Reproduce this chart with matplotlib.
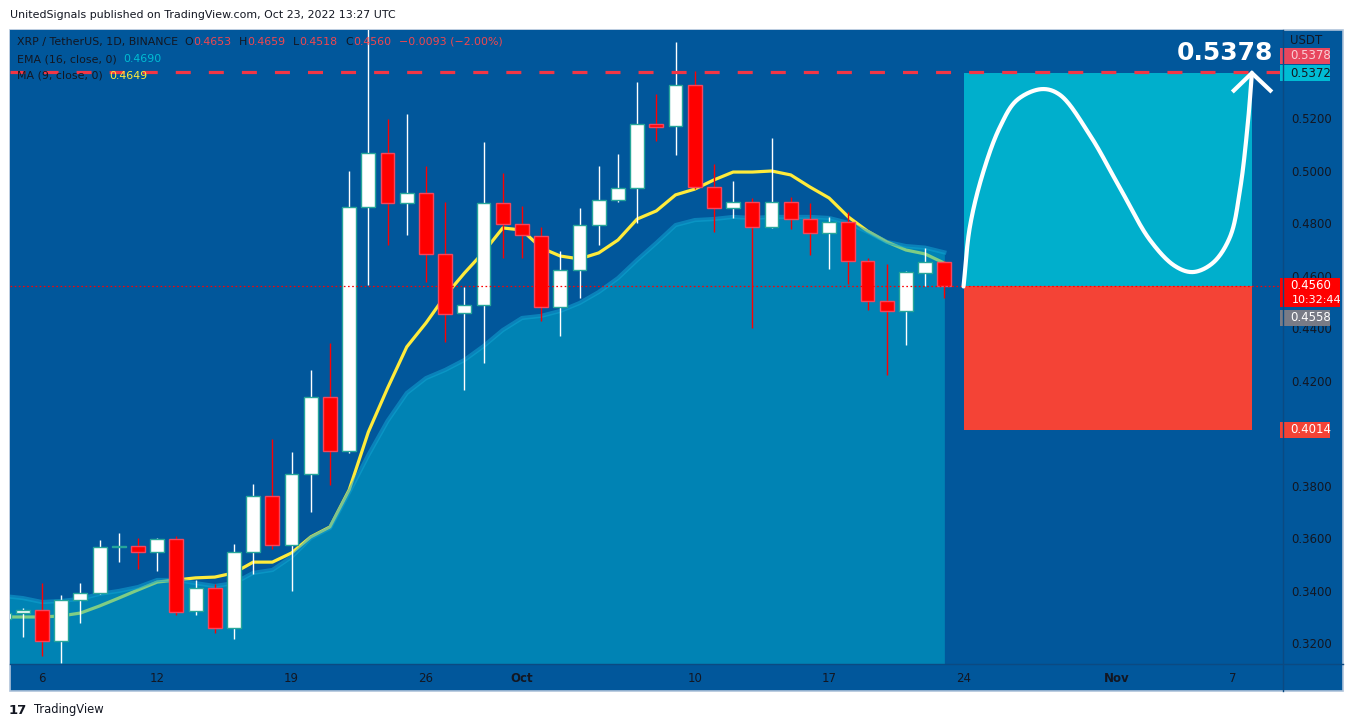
import matplotlib
matplotlib.use("Agg")
import matplotlib.pyplot as plt
import matplotlib.transforms as mtransforms
from matplotlib.patches import Rectangle
from matplotlib.lines import Line2D
import numpy as np

plt.rcParams['font.family'] = ['DejaVu Sans']
plt.rcParams['lines.scale_dashes'] = False

# ---------------- data ----------------
dates = ["Sep 4", "Sep 5", "Sep 6", "Sep 7", "Sep 8", "Sep 9", "Sep 10", "Sep 11", "Sep 12", "Sep 13",
         "Sep 14", "Sep 15", "Sep 16", "Sep 17", "Sep 18", "Sep 19", "Sep 20", "Sep 21", "Sep 22", "Sep 23",
         "Sep 24", "Sep 25", "Sep 26", "Sep 27", "Sep 28", "Sep 29", "Sep 30", "Oct 1", "Oct 2", "Oct 3",
         "Oct 4", "Oct 5", "Oct 6", "Oct 7", "Oct 8", "Oct 9", "Oct 10", "Oct 11", "Oct 12", "Oct 13",
         "Oct 14", "Oct 15", "Oct 16", "Oct 17", "Oct 18", "Oct 19", "Oct 20", "Oct 21", "Oct 22", "Oct 23"]

opens = [0.3293, 0.3316, 0.3328, 0.3210, 0.3366, 0.3392, 0.3567, 0.3571, 0.3549, 0.3598,
         0.3324, 0.3411, 0.3259, 0.3549, 0.3762, 0.3575, 0.3846, 0.4139, 0.3933, 0.4863,
         0.5069, 0.4878, 0.4916, 0.4684, 0.4459, 0.4490, 0.4878, 0.4798, 0.4752, 0.4482,
         0.4623, 0.4794, 0.4890, 0.4935, 0.5179, 0.5171, 0.5328, 0.4939, 0.4859, 0.4882,
         0.4787, 0.4882, 0.4817, 0.4764, 0.4806, 0.4657, 0.4505, 0.4467, 0.4611, 0.4653]
highs = [0.3325, 0.3335, 0.3430, 0.3385, 0.3430, 0.3594, 0.3621, 0.3602, 0.3602, 0.3610,
         0.3442, 0.3427, 0.3579, 0.3808, 0.3979, 0.3930, 0.4242, 0.4345, 0.5000, 0.5560,
         0.5198, 0.5217, 0.5019, 0.4882, 0.4558, 0.5110, 0.4992, 0.4867, 0.4787, 0.4695,
         0.4859, 0.5019, 0.5065, 0.5339, 0.5293, 0.5491, 0.5381, 0.5027, 0.4962, 0.4897,
         0.5126, 0.4901, 0.4878, 0.4825, 0.4844, 0.4669, 0.4646, 0.4619, 0.4707, 0.4659]
lows = [0.3285, 0.3225, 0.3152, 0.3126, 0.3278, 0.3390, 0.3510, 0.3484, 0.3476, 0.3309,
        0.3309, 0.3240, 0.3217, 0.3465, 0.3560, 0.3400, 0.3701, 0.3804, 0.3925, 0.4566,
        0.4718, 0.4756, 0.4577, 0.4349, 0.4166, 0.4269, 0.4669, 0.4669, 0.4429, 0.4371,
        0.4516, 0.4718, 0.4882, 0.4802, 0.5114, 0.5061, 0.4931, 0.4768, 0.4821, 0.4402,
        0.4783, 0.4779, 0.4680, 0.4627, 0.4570, 0.4471, 0.4223, 0.4337, 0.4562, 0.4518]
closes = [0.3316, 0.3328, 0.3210, 0.3366, 0.3392, 0.3568, 0.3569, 0.3549, 0.3598, 0.3320,
          0.3411, 0.3259, 0.3549, 0.3762, 0.3575, 0.3846, 0.4139, 0.3933, 0.4863, 0.5069,
          0.4878, 0.4916, 0.4684, 0.4455, 0.4490, 0.4878, 0.4798, 0.4756, 0.4482, 0.4623,
          0.4794, 0.4890, 0.4935, 0.5179, 0.5168, 0.5328, 0.4939, 0.4859, 0.4882, 0.4787,
          0.4882, 0.4817, 0.4764, 0.4806, 0.4657, 0.4505, 0.4467, 0.4615, 0.4653, 0.4560]

ma9 = [0.3301, 0.3301, 0.3301, 0.3305, 0.3316, 0.3343, 0.3373, 0.3404, 0.3434, 0.3442,
       0.3450, 0.3453, 0.3469, 0.3510, 0.3510, 0.3545, 0.3606, 0.3644, 0.3785, 0.4006,
       0.4173, 0.4330, 0.4421, 0.4524, 0.4611, 0.4691, 0.4783, 0.4775, 0.4707, 0.4676,
       0.4665, 0.4688, 0.4737, 0.4817, 0.4848, 0.4909, 0.4931, 0.4966, 0.4996, 0.4996,
       0.5000, 0.4985, 0.4939, 0.4897, 0.4825, 0.4771, 0.4730, 0.4699, 0.4684, 0.4649]
ema16 = [0.3381, 0.3373, 0.3358, 0.3362, 0.3370, 0.3389, 0.3400, 0.3415, 0.3442, 0.3442,
         0.3430, 0.3419, 0.3430, 0.3469, 0.3480, 0.3530, 0.3602, 0.3640, 0.3777, 0.3918,
         0.4048, 0.4154, 0.4211, 0.4242, 0.4280, 0.4333, 0.4394, 0.4440, 0.4448, 0.4467,
         0.4497, 0.4539, 0.4592, 0.4661, 0.4726, 0.4794, 0.4813, 0.4817, 0.4825, 0.4821,
         0.4825, 0.4825, 0.4825, 0.4821, 0.4802, 0.4768, 0.4730, 0.4714, 0.4708, 0.4690]

x_tick_pos = [2, 8, 15, 22, 27, 36, 43, 50, 58, 64]
x_tick_labels = ["6", "12", "19", "26", "Oct", "10", "17", "24", "Nov", "7"]
y_tick_vals = [0.32, 0.34, 0.36, 0.38, 0.42, 0.44, 0.46, 0.48, 0.50, 0.52]

entry_price = 0.4560
target_price = 0.5372
stop_price = 0.4014
alert_level = 0.5378
last_price = 0.4560
prev_close_label = 0.4558
position_start = 50
position_end = 65

# hand-drawn path annotation (day index, price)
curve_x = [50.0, 50.33, 51.01, 51.90, 52.78, 54.08, 55.02, 56.58, 58.15, 59.71,
           61.01, 61.95, 62.99, 63.88, 64.40, 64.81, 65.02]
curve_y = [0.4560, 0.4787, 0.4992, 0.5168, 0.5270, 0.5312, 0.5290, 0.5137, 0.4935, 0.4737,
           0.4638, 0.4615, 0.4650, 0.4749, 0.4928, 0.5183, 0.5373]
arrow_x = [64.0, 65.02, 66.06]
arrow_y = [0.5301, 0.5373, 0.5301]

# ---------------- styling ----------------
W, H = 1354, 727
BG = '#01579B'
TXT = '#131722'
fig = plt.figure(figsize=(W / 100, H / 100), dpi=100)
fig.patch.set_facecolor('white')


def fx(px):
    return px / W


def fy(py):
    return 1 - py / H


fig.add_artist(Rectangle((fx(10), fy(691)), 1333 / W, 661 / H, transform=fig.transFigure,
                         facecolor=BG, edgecolor='#AFC3DA', lw=1.2, zorder=0))

ax = fig.add_axes([fx(10), fy(664), 1273 / W, 634 / H])
ax.set_facecolor(BG)
xmin, xmax = 0.333, 66.64
ymin, ymax = 0.31219, 0.55371
ax.set_xlim(xmin, xmax)
ax.set_ylim(ymin, ymax)
dp = (ymax - ymin) / 634.0
dx = (xmax - xmin) / 1273.0
for s in ax.spines.values():
    s.set_visible(False)

x = np.arange(len(dates))
o = np.array(opens); h = np.array(highs); l = np.array(lows); c = np.array(closes)
up = c >= o

ax.plot(x, ma9, color='#FFEB3B', lw=2.3, zorder=2, solid_joinstyle='round')
ax.fill_between(x, ema16, ymin - 0.05, color='#00B0CE', alpha=0.5, lw=0, zorder=3)
ax.plot(x, ema16, color='#12A5D3', lw=3, alpha=0.55, zorder=3.1)

ax.add_patch(Rectangle((position_start, entry_price), position_end - position_start,
                       target_price - entry_price, fc='#00AFCC', ec='none', zorder=2))
ax.add_patch(Rectangle((position_start, stop_price), position_end - position_start,
                       entry_price - stop_price, fc='#F44336', ec='none', zorder=2))

ax.vlines(x[up], l[up], h[up], color='white', lw=1, zorder=4)
ax.vlines(x[~up], l[~up], h[~up], color='#FF0000', lw=1, zorder=4)
bh = np.maximum(np.abs(c - o), dp)
bb = np.minimum(o, c)
ax.bar(x[up], bh[up], bottom=bb[up], width=0.72, color='white', edgecolor='#26A69A', lw=1, zorder=5)
ax.bar(x[~up], bh[~up], bottom=bb[~up], width=0.72, color='#FF0000', edgecolor='#F6465D', lw=1, zorder=5)

ax.axhline(alert_level, color='#F23645', lw=2.3, ls=(0, (10.8, 13)), zorder=6)
ax.axhline(last_price, color='#FF0000', lw=0.9, ls=(0, (1.2, 1.8)), zorder=6)


def centripetal_cr(xs, ys, sx, sy, n=30):
    pts = np.column_stack([np.array(xs) / sx, np.array(ys) / sy])
    pts = np.vstack([2 * pts[0] - pts[1], pts, 2 * pts[-1] - pts[-2]])
    out = []
    for i in range(1, len(pts) - 2):
        p0, p1, p2, p3 = pts[i - 1], pts[i], pts[i + 1], pts[i + 2]
        t0 = 0.0
        t1 = t0 + np.linalg.norm(p1 - p0) ** 0.5
        t2 = t1 + np.linalg.norm(p2 - p1) ** 0.5
        t3 = t2 + np.linalg.norm(p3 - p2) ** 0.5
        t = np.linspace(t1, t2, n, endpoint=False)[:, None]
        A1 = (t1 - t) / (t1 - t0) * p0 + (t - t0) / (t1 - t0) * p1
        A2 = (t2 - t) / (t2 - t1) * p1 + (t - t1) / (t2 - t1) * p2
        A3 = (t3 - t) / (t3 - t2) * p2 + (t - t2) / (t3 - t2) * p3
        B1 = (t2 - t) / (t2 - t0) * A1 + (t - t0) / (t2 - t0) * A2
        B2 = (t3 - t) / (t3 - t1) * A2 + (t - t1) / (t3 - t1) * A3
        out.append((t2 - t) / (t2 - t1) * B1 + (t - t1) / (t2 - t1) * B2)
    out.append(pts[-2:-1])
    res = np.vstack(out)
    return res[:, 0] * sx, res[:, 1] * sy


cvx, cvy = centripetal_cr(curve_x, curve_y, dx, dp)
ax.plot(cvx, cvy, color='white', lw=3, zorder=7, solid_capstyle='round', solid_joinstyle='round')
ax.plot(arrow_x, arrow_y, color='white', lw=3, zorder=7, solid_capstyle='butt', solid_joinstyle='miter')
ax.text(63.6, alert_level + 19 * dp, "0.5378", color='white', fontsize=18, fontweight='bold',
        ha='center', va='center', zorder=8)

ax.set_xticks(x_tick_pos)
ax.set_xticklabels(x_tick_labels)
ax.tick_params(axis='x', length=0, pad=6, labelsize=8.5, labelcolor=TXT)
for lab in ax.get_xticklabels():
    if lab.get_text() in ("Oct", "Nov"):
        lab.set_fontweight('bold')
ax.yaxis.tick_right()
ax.set_yticks(y_tick_vals)
ax.set_yticklabels(["%.4f" % v for v in y_tick_vals])
ax.tick_params(axis='y', length=0, pad=6, labelsize=8.5, labelcolor=TXT)

fig.add_artist(Line2D([fx(1283), fx(1283)], [fy(691), fy(30)], color='#0B4A82', lw=1, zorder=1))
fig.add_artist(Line2D([fx(10), fx(1343)], [fy(664), fy(664)], color='#0B4A82', lw=1, zorder=1))

bt = mtransforms.blended_transform_factory(fig.transFigure, ax.transData)


def price_box(center, text, fc, tc, x0=1280, x1=1330, hpx=16, text2=None):
    hh = hpx * dp
    ax.add_patch(Rectangle((fx(x0), center - hh / 2), (x1 - x0) / W, hh, transform=bt, fc=fc,
                           ec='none', zorder=20, clip_on=False))
    if text2 is None:
        ax.text(fx(x0 + 10), center, text, transform=bt, color=tc, fontsize=8.5, va='center',
                ha='left', zorder=21, clip_on=False)
    else:
        ax.text(fx(x0 + 10), center + 7 * dp, text, transform=bt, color=tc, fontsize=8.5,
                va='center', ha='left', zorder=21, clip_on=False)
        ax.text(fx(x0 + 12), center - 7 * dp, text2, transform=bt, color=tc, fontsize=8,
                va='center', ha='left', zorder=21, clip_on=False)


price_box(alert_level + 16 * dp, "0.5378", '#E8475E', '#F9D0D6')
price_box(target_price, "0.5372", '#00BCD4', TXT)
price_box(last_price - 6.5 * dp, "0.4560", '#FF0000', 'white', x1=1340, hpx=29, text2="10:32:44")
price_box(prev_close_label - 30.5 * dp, "0.4558", '#787B86', 'white')
price_box(stop_price, "0.4014", '#F44336', 'white')
fig.text(fx(1290), fy(40), "USDT", color=TXT, fontsize=8.5, va='center', ha='left')

renderer = fig.canvas.get_renderer()
lfs = 7.9
RED = '#F0474F'


def chain_seq(y, start, pieces):
    cur = start
    for gap, s, col in pieces:
        t = fig.text(fx(cur + gap), fy(y), s, color=col, fontsize=lfs, va='center')
        cur = t.get_window_extent(renderer).x1


chain_seq(42, 17, [(0, "XRP / TetherUS, 1D, BINANCE", TXT), (6, "O", TXT), (0, "0.4653", RED),
                   (8, "H", TXT), (0, "0.4659", RED), (8, "L", TXT), (0, "0.4518", RED),
                   (8, "C", TXT), (0, "0.4560", RED), (8, "\u22120.0093 (\u22122.00%)", RED)])
chain_seq(59, 17, [(0, "EMA (16, close, 0)", TXT), (6, "0.4690", '#00BCD4')])
chain_seq(76, 17, [(0, "MA (9, close, 0)", TXT), (6, "0.4649", '#FFEB3B')])

fig.text(fx(10), fy(15), "UnitedSignals published on TradingView.com, Oct 23, 2022 13:27 UTC",
         color=TXT, fontsize=7.9, va='center')
fig.text(fx(9), fy(710), "17", color=TXT, fontsize=9.5, fontweight='bold', va='center')
fig.text(fx(34), fy(710), "TradingView", color=TXT, fontsize=8.3, va='center')

fig.savefig("out.png", dpi=100, facecolor='white')
